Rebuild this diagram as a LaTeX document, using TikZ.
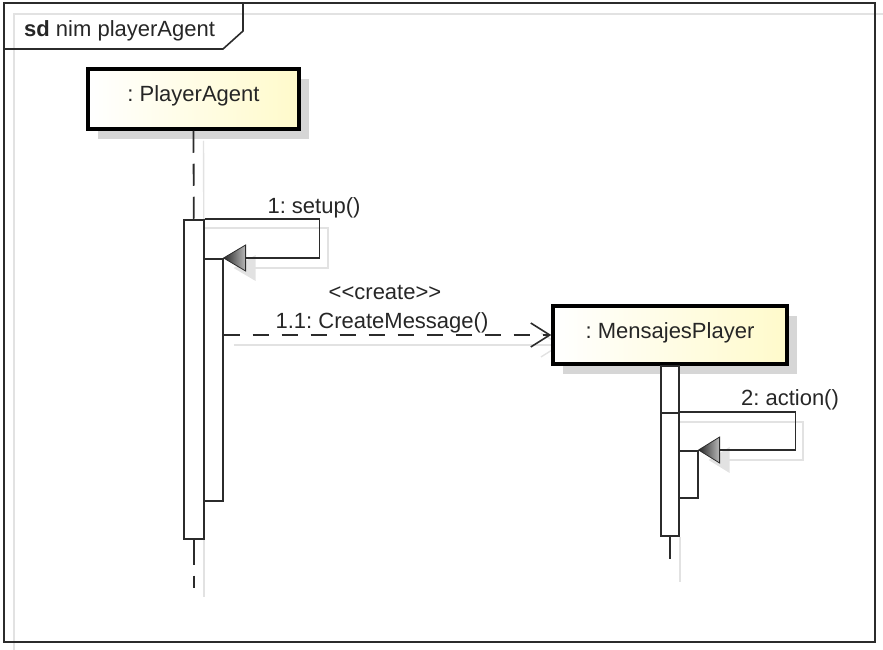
\documentclass[tikz,border=0pt]{standalone}
\usepackage{fontspec}
\setmainfont{Liberation Sans}
\usetikzlibrary{arrows.meta,calc,shadows,backgrounds}
\frenchspacing

\definecolor{ink}{HTML}{2B2B2B}
\definecolor{shadegray}{HTML}{D6D6D6}
\definecolor{faint}{HTML}{E2E2E2}
\definecolor{cream}{HTML}{FFFACB}

\tikzset{
  txt/.style={font=\fontsize{22}{26}\selectfont, text=black!85, inner sep=0pt},
  head/.style={txt, draw=black, line width=3.5pt, left color=white, right color=cream,
    text height=16pt, text depth=10pt,
    general shadow={fill=shadegray, shadow xshift=10pt, shadow yshift=-10pt}},
  actbar/.style={draw=ink, line width=1.6pt, fill=white, inner sep=0pt, anchor=north west},
  life/.style={draw=ink, line width=1.8pt, dash pattern=on 22pt off 11pt},
  msg/.style={draw=ink, line width=1.6pt},
  createmsg/.style={draw=ink, line width=1.6pt, dash pattern=on 16pt off 13pt,
    -{Straight Barb[length=19pt,width=24pt,line width=1.6pt]}},
  shadowline/.style={draw=faint, line width=1.4pt},
  headtip/.style={left color=black!85, right color=gray!55, draw=ink, line width=0.8pt}
}

\begin{document}
\begin{tikzpicture}[x=1pt,y=-1pt]
\useasboundingbox (0,0) rectangle (883,650);

% frame with its faint offset lines and the name tag
\draw[shadowline] (14,650) -- (14,14) -- (883,14);
\draw[ink, line width=2pt] (4,3) rectangle (875,642);
\draw[ink, line width=1.6pt] (4,49) -- (223,49) -- (243,31) -- (243,3);
\node[txt, anchor=base west] (title) at (24,37) {\textbf{sd} nim playerAgent};

% lifeline heads
\node[head, minimum width=211, minimum height=60] (pa) at (193.5,99) {: PlayerAgent};
\node[head, minimum width=234, minimum height=58] (mp) at (670,335) {: MensajesPlayer};

% activation bars
\node[actbar, minimum width=20, minimum height=319] (a1) at (183,219) {};
\node[actbar, minimum width=19, minimum height=242] (a1n) at (203,258) {};
\node[actbar, minimum width=18, minimum height=47] (b0) at (660,365) {};
\node[actbar, minimum width=18, minimum height=123] (b1) at (660,412) {};
\node[actbar, minimum width=19, minimum height=47] (b1n) at (678,450) {};

% shadows of lifelines and messages
\begin{scope}[on background layer]
  \draw[shadowline] ($(pa.south)+(10,10)$) -- ($(a1.north)+(10,0)$);
  \draw[shadowline] ($(a1.south)+(10,0)$) -- ++(0,57);
  \draw[shadowline] ($(b1.south)+(10,0)$) -- ++(0,45);
  \draw[shadowline] ($(a1.north)+(0,9)$) -- ++(134,0) |- ($(a1n.north east)+(31,10)$);
  \fill[faint] ($(a1n.north east)+(10,10)$) -- ++(22,-13) -- ++(0,26) -- cycle;
  \draw[shadowline] ($(b1.north)+(0,10)$) -- ++(133,0) |- ($(b1n.north east)+(30,10)$);
  \fill[faint] ($(b1n.north east)+(10,10)$) -- ++(21,-13) -- ++(0,26) -- cycle;
  \draw[shadowline, -{Straight Barb[length=19pt,width=24pt,line width=1.4pt]}]
    ($(a1n.east |- mp.west)+(10,10)$) -- ($(mp.west)+(10,10)$);
\end{scope}

% lifelines
\draw[life] (pa.south) -- (a1.north);
\draw[life, dash pattern=on 25pt off 11pt] (a1.south) -- ++(0,48);
\draw[life] (b1.south) -- ++(0,23);

% 1: setup()
\draw[msg] (a1.north east) -- ++(115,0) |- ($(a1n.north east)+(22,0)$);
\shade[headtip] (a1n.north east) -- ++(22,-13) -- ++(0,26) -- cycle;
\node[txt, anchor=base] (m1) at (314,213) {1: setup()};

% 1.1: CreateMessage()
\draw[createmsg] (a1n.east |- mp.west) -- (mp.west);
\node[txt, anchor=base] (st) at (385,299) {<{}<create>{}>};
\node[txt, anchor=base] (m2) at (382,328) {1.1: CreateMessage()};

% 2: action()
\draw[msg] (b1.north east) -- ++(116,0) |- ($(b1n.north east)+(21,0)$);
\shade[headtip] (b1n.north east) -- ++(21,-13) -- ++(0,26) -- cycle;
\node[txt, anchor=base] (m3) at (790,405) {2: action()};
\end{tikzpicture}
\end{document}
